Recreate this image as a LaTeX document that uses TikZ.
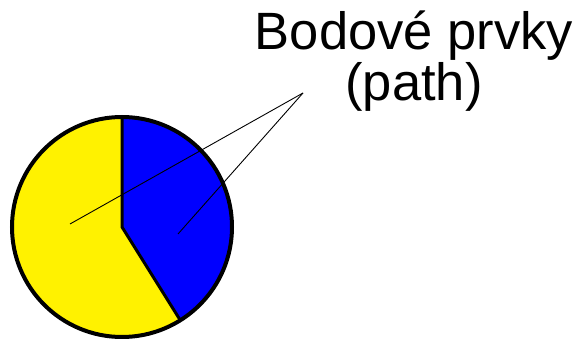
\documentclass[tikz,border=0pt]{standalone}
\usepackage{fontspec}
\setmainfont{Liberation Sans}
\usepackage{tikz}

\begin{document}
\begin{tikzpicture}[x=1pt,y=1pt,
    label/.style={font=\fontsize{52.5pt}{60pt}\selectfont,anchor=base,inner sep=0pt},
    leader/.style={line width=0.9pt}]
  \useasboundingbox (0,0) rectangle (582,343);
  % pie: yellow disc, blue slice
  \coordinate (c) at (122,116);
  \fill[yellow] (c) circle (110pt);
  \fill[blue] (c) -- ++(90:110pt) arc[start angle=90,end angle=-58,radius=110pt] -- cycle;
  % slice border and outline
  \draw[line width=3pt,line join=round] (c) ++(90:110pt) -- (c) -- ++(-58:110pt);
  \draw[line width=4pt] (c) circle (110pt);
  % caption
  \node[label] (title) at (414,293) {Bodové prvky};
  \node[label] (sub) at (414,242) {(path)};
  % leader lines
  \coordinate (tip) at (303,250);
  \coordinate (inyellow) at (70,119);
  \coordinate (inblue) at (178,109);
  \draw[leader] (tip) -- (inyellow);
  \draw[leader] (tip) -- (inblue);
\end{tikzpicture}
\end{document}
